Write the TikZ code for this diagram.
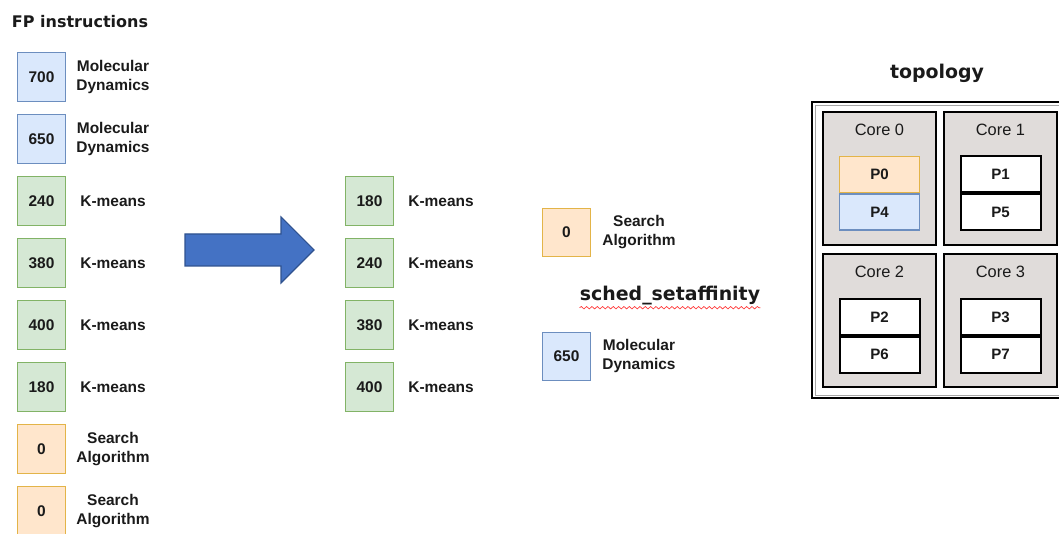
\documentclass[tikz,border=0pt]{standalone}
\usepackage{fontspec}
\setmainfont{Liberation Sans}
\newfontfamily\djv{DejaVu Sans}
\usetikzlibrary{decorations.pathmorphing}
\definecolor{bluF}{HTML}{DAE8FC}
\definecolor{bluD}{HTML}{6C8EBF}
\definecolor{grnF}{HTML}{D5E8D4}
\definecolor{grnD}{HTML}{82B366}
\definecolor{orgF}{HTML}{FFE6CC}
\definecolor{orgD}{HTML}{E3B448}
\definecolor{coreF}{HTML}{E0DCDA}
\definecolor{arrF}{HTML}{4472C4}
\definecolor{arrD}{HTML}{2F528F}
\definecolor{txt}{HTML}{1A1A1A}
\begin{document}
\begin{tikzpicture}[x=0.75pt,y=-0.75pt,
  every node/.style={text=txt},
  numbox/.style={draw, line width=0.9pt, inner sep=0pt, minimum width=36.5pt, minimum height=36.5pt,
     font=\fontsize{11.6pt}{14pt}\selectfont\bfseries},
  blu/.style={numbox, fill=bluF, draw=bluD},
  grn/.style={numbox, fill=grnF, draw=grnD},
  org/.style={numbox, fill=orgF, draw=orgD},
  lbl/.style={align=center, inner sep=0pt, font=\fontsize{11.6pt}{14.6pt}\selectfont\bfseries},
  title/.style={inner sep=0pt, font=\djv\fontsize{14.2pt}{17pt}\selectfont\bfseries},
  core/.style={draw=black, fill=coreF, line width=1.3pt,
     inner sep=0pt, minimum width=85pt, minimum height=100pt},
  pbox/.style={draw=black, fill=white, line width=1.5pt, inner sep=0pt, minimum width=60pt, minimum height=27pt,
     font=\fontsize{11.3pt}{13pt}\selectfont\bfseries},
  coretitle/.style={inner sep=0pt, font=\fontsize{12.3pt}{14pt}\selectfont}
]
\useasboundingbox (0,0) rectangle (1059,534);

% title
\node[inner sep=0pt, font=\djv\fontsize{12pt}{14pt}\selectfont\bfseries] (fp) at (80,22) {FP instructions};

% left column
\node[blu] (l1) at (41.5,77) {700};
\node[lbl] (l1t) at (113,77) {Molecular\\Dynamics};
\node[blu] (l2) at (41.5,139) {650};
\node[lbl] (l2t) at (113,139) {Molecular\\Dynamics};
\node[grn] (l3) at (41.5,201) {240};
\node[lbl] (l3t) at (113,201) {K-means};
\node[grn] (l4) at (41.5,263) {380};
\node[lbl] (l4t) at (113,263) {K-means};
\node[grn] (l5) at (41.5,325) {400};
\node[lbl] (l5t) at (113,325) {K-means};
\node[grn] (l6) at (41.5,387) {180};
\node[lbl] (l6t) at (113,387) {K-means};
\node[org] (l7) at (41.5,449) {0};
\node[lbl] (l7t) at (113,449) {Search\\Algorithm};
\node[org] (l8) at (41.5,511) {0};
\node[lbl] (l8t) at (113,511) {Search\\Algorithm};

% big arrow
\draw[fill=arrF, draw=arrD, line width=0.8pt, line join=miter]
  (185,234) -- (281,234) -- (281,217) -- (314,250) -- (281,283) -- (281,266) -- (185,266) -- cycle;

% middle column
\node[grn] (m1) at (369.5,201) {180};
\node[lbl] (m1t) at (441,201) {K-means};
\node[grn] (m2) at (369.5,263) {240};
\node[lbl] (m2t) at (441,263) {K-means};
\node[grn] (m3) at (369.5,325) {380};
\node[lbl] (m3t) at (441,325) {K-means};
\node[grn] (m4) at (369.5,387) {400};
\node[lbl] (m4t) at (441,387) {K-means};

% right column
\node[org] (r1) at (566.5,232.5) {0};
\node[lbl] (r1t) at (639,232) {Search\\Algorithm};
\node[title] (sched) at (670,296) {sched\_setaffinity};
\draw[red!80, line width=0.5pt, decorate, decoration={snake, amplitude=0.9pt, segment length=4pt}]
  ([yshift=-1.5pt]sched.south west) -- ([yshift=-1.5pt]sched.south east);
\node[blu] (r2) at (566.5,356.5) {650};
\node[lbl] (r2t) at (639,356) {Molecular\\Dynamics};

% topology
\node[title] (topo) at (937,73) {topology};
\draw[draw=black, line width=1.5pt] (1070,102) -- (812,102) -- (812,398) -- (1070,398);
\draw[draw=black!35, line width=0.5pt] (1070,105) -- (815,105) -- (815,395) -- (1070,395);

\node[core] (c0) at (879.5,178.5) {};
\node[core] (c1) at (1000.5,178.5) {};
\node[core] (c2) at (879.5,320.5) {};
\node[core] (c3) at (1000.5,320.5) {};

\node[coretitle] (c0t) at (879.5,129.5) {Core 0};
\node[coretitle] (c1t) at (1000.5,129.5) {Core 1};
\node[coretitle] (c2t) at (879.5,272) {Core 2};
\node[coretitle] (c3t) at (1000.5,272) {Core 3};

\node[pbox, fill=orgF, draw=orgD, line width=1.2pt] (p0) at (879.5,174.5) {P0};
\node[pbox, fill=bluF, draw=bluD, line width=1.2pt] (p4) at (879.5,212) {P4};
\node[pbox] (p1) at (1000.5,174.5) {P1};
\node[pbox] (p5) at (1000.5,212) {P5};
\node[pbox] (p2) at (879.5,317) {P2};
\node[pbox] (p6) at (879.5,354.5) {P6};
\node[pbox] (p3) at (1000.5,317) {P3};
\node[pbox] (p7) at (1000.5,354.5) {P7};
\end{tikzpicture}
\end{document}
